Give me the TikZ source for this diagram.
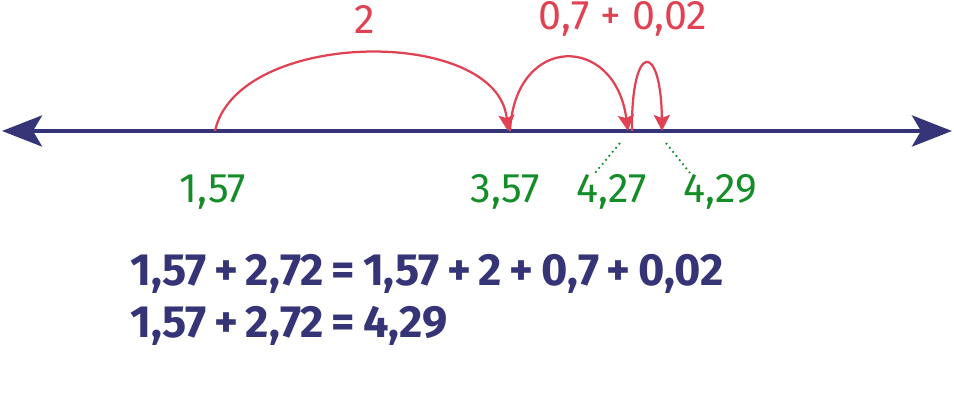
\documentclass[tikz,border=0pt]{standalone}
\usepackage{fontspec}
\setmainfont{Fira Sans}
\usepackage{tikz}
\usetikzlibrary{arrows.meta}
\usepackage{xcolor}
\definecolor{navyline}{RGB}{52,52,118}
\definecolor{jumpred}{RGB}{224,66,84}
\definecolor{markgreen}{RGB}{20,140,40}
\newcommand{\tightspace}{\spaceskip=0.17em\relax}

\begin{document}
\begin{tikzpicture}
        % ================= 样式定义 =================
        \tikzset{
            % 数轴
            axis/.style={line width=0.8mm, navyline, {Stealth[length=8mm,width=6.2mm,inset=1.8mm]}-{Stealth[length=8mm,width=6.2mm,inset=1.8mm]}},
            % 跳跃弧线 (红色)
            jump/.style={line width=0.45mm, jumpred, -{Stealth[length=3.2mm,width=3.2mm,inset=0.6mm]}},
            % 跳跃标签
            jumplabel/.style={text=jumpred, inner sep=0pt, font=\fontsize{23.5}{26}\selectfont},
            % 数轴上的数 (绿色)
            numlabel/.style={text=markgreen, font=\fontsize{23.5}{26}\selectfont},
            % 绿色虚线
            guide/.style={markgreen, line width=0.35mm, dotted},
            % 算式
            eqline/.style={text=navyline, anchor=base west, inner sep=0pt, font=\fontsize{25.7}{30}\selectfont\bfseries\tightspace}
        }

        \useasboundingbox (0,0) rectangle (19.08,8.12);

        % ================= 数轴 =================
        \coordinate (left) at (0.04,5.5);
        \coordinate (right) at (19.04,5.5);
        \draw[axis] (left) -- (right);

        % 数轴上的点
        \coordinate (p157) at (4.30,5.5);
        \coordinate (p357) at (10.16,5.5);
        \coordinate (s357) at (10.20,5.5);
        \coordinate (p427) at (12.56,5.5);
        \coordinate (s427) at (12.64,5.5);
        \coordinate (p429) at (13.24,5.5);

        % ================= 跳跃 =================
        \draw[jump] (p157) .. controls (4.75,7.55) and (9.95,7.6) .. (p357);
        \draw[jump] (s357) .. controls (10.3,7.45) and (12.3,7.45) .. (p427);
        \draw[jump] (s427) .. controls (12.62,7.3) and (13.22,7.3) .. (p429);

        \node[jumplabel] (two) at (7.30,7.74) {2};
        \node[jumplabel] (rest) at (12.46,7.74) {0,7 + 0,02};

        % ================= 数 =================
        \node[numlabel] (n157) at (4.26,4.28) {1,57};
        \node[numlabel] (n357) at (10.10,4.28) {3,57};
        \node[numlabel] (n427) at (12.24,4.28) {4,27};
        \node[numlabel] (n429) at (14.40,4.28) {4,29};

        % 虚线 (4,27 与 4,29)
        \coordinate (a427) at (12.40,5.26);
        \coordinate (b427) at (11.90,4.66);
        \coordinate (a429) at (13.32,5.26);
        \coordinate (b429) at (13.80,4.66);
        \draw[guide] (a427) -- (b427);
        \draw[guide] (a429) -- (b429);

        % ================= 算式 =================
        \node[eqline] (eq1) at (2.60,2.40) {1,57 + 2,72 = 1,57 + 2 + 0,7 + 0,02};
        \node[eqline] (eq2) at (2.60,1.36) {1,57 + 2,72 = 4,29};

    \end{tikzpicture}
\end{document}
